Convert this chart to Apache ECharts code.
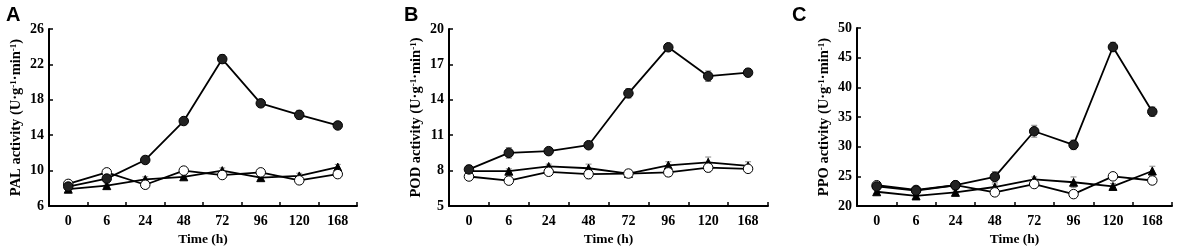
<!DOCTYPE html>
<html>
<head>
<meta charset="utf-8">
<script src="https://cdn.jsdelivr.net/npm/echarts@6/dist/echarts.min.js"></script>
<style>
html,body{margin:0;padding:0;background:#fff;}
#chart{width:1177px;height:252px;}
</style>
</head>
<body>
<div id="chart"></div>
<script>
// ---- Data ----
const categories = ['0', '6', '24', '48', '72', '96', '120', '168'];

// Panel A: PAL
const palFilled = [8.2, 9.1, 11.2, 15.6, 22.6, 17.6, 16.3, 15.1];
const palFilledErr = [0.2, 0.3, 0.3, 0.2, 0.5, 0.3, 0.5, 0.2];
const palOpen = [8.5, 9.8, 8.4, 10.0, 9.5, 9.8, 8.9, 9.6];
const palOpenErr = [0.2, 0.2, 0.4, 0.2, 0.3, 0.2, 0.2, 0.4];
const palTri = [7.9, 8.3, 9.0, 9.3, 10.0, 9.2, 9.4, 10.4];
const palTriErr = [0.2, 0.2, 0.3, 0.2, 0.3, 0.3, 0.3, 0.3];

// Panel B: POD
const podFilled = [8.1, 9.5, 9.65, 10.15, 14.55, 18.45, 16.0, 16.3];
const podFilledErr = [0.35, 0.45, 0.3, 0.2, 0.4, 0.25, 0.45, 0.35];
const podOpen = [7.5, 7.15, 7.9, 7.7, 7.75, 7.85, 8.25, 8.15];
const podOpenErr = [0.2, 0.1, 0.2, 0.4, 0.3, 0.35, 0.35, 0.2];
const podTri = [7.95, 7.95, 8.35, 8.2, 7.75, 8.45, 8.7, 8.4];
const podTriErr = [0.35, 0.2, 0.2, 0.35, 0.3, 0.3, 0.45, 0.35];

// Panel C: PPO
const ppoFilled = [23.3, 22.6, 23.5, 24.9, 32.6, 30.3, 46.8, 35.9];
const ppoFilledErr = [0.4, 0.4, 0.6, 0.9, 1.0, 0.8, 0.8, 0.8];
const ppoOpen = [23.5, 22.7, 23.5, 22.3, 23.7, 22.0, 25.0, 24.3];
const ppoOpenErr = [0.4, 0.4, 0.5, 0.5, 0.5, 0.6, 0.4, 0.6];
const ppoTri = [22.4, 21.7, 22.3, 23.2, 24.5, 24.0, 23.3, 25.9];
const ppoTriErr = [0.4, 0.4, 0.4, 0.5, 0.4, 0.9, 0.5, 0.8];

// Axis settings (tick labels)
const yAxesSpec = [
  {min: 6, max: 26, interval: 4, label: 'PAL'},
  {min: 5, max: 20, interval: 3, label: 'POD'},
  {min: 20, max: 50, interval: 5, label: 'PPO'}
];
const panelLetters = ['A', 'B', 'C'];
const xName = 'Time (h)';

// ---- Layout ----
const grids = [
  {left: 49, top: 29, width: 308, height: 183},
  {left: 449, top: 29, width: 319, height: 183},
  {left: 857, top: 28, width: 315, height: 183}
];
const letterPos = [[6, 5], [404, 5], [792, 5]];

const serif = 'Liberation Serif, Times New Roman, serif';

const panels = [
  {filled: palFilled, fErr: palFilledErr, open: palOpen, oErr: palOpenErr, tri: palTri, tErr: palTriErr},
  {filled: podFilled, fErr: podFilledErr, open: podOpen, oErr: podOpenErr, tri: podTri, tErr: podTriErr},
  {filled: ppoFilled, fErr: ppoFilledErr, open: ppoOpen, oErr: ppoOpenErr, tri: ppoTri, tErr: ppoTriErr}
];

function errData(vals, errs) {
  return vals.map((v, i) => [i, v - errs[i], v + errs[i]]);
}

function renderErr(params, api) {
  const x = api.value(0);
  const lo = api.coord([x, api.value(1)]);
  const hi = api.coord([x, api.value(2)]);
  const hw = 3;
  const st = {stroke: '#888', lineWidth: 1};
  return {
    type: 'group',
    children: [
      {type: 'line', shape: {x1: lo[0], y1: lo[1], x2: hi[0], y2: hi[1]}, style: st},
      {type: 'line', shape: {x1: lo[0] - hw, y1: lo[1], x2: lo[0] + hw, y2: lo[1]}, style: st},
      {type: 'line', shape: {x1: hi[0] - hw, y1: hi[1], x2: hi[0] + hw, y2: hi[1]}, style: st}
    ]
  };
}

const option = {
  backgroundColor: '#fff',
  animation: false,
  title: panelLetters.map((t, i) => ({
    text: t, left: letterPos[i][0], top: letterPos[i][1], padding: 0,
    textStyle: {fontFamily: 'Liberation Sans, Arial, sans-serif', fontWeight: 'bold', fontSize: 20, color: '#000'}
  })),
  grid: grids.map(g => Object.assign({containLabel: false}, g)),
  xAxis: grids.map((g, i) => ({
    type: 'category', gridIndex: i, data: categories, boundaryGap: true,
    name: xName, nameLocation: 'middle', nameGap: 27,
    nameTextStyle: {fontFamily: serif, fontWeight: 'bold', fontSize: 13.5, color: '#000'},
    axisLine: {lineStyle: {color: '#000', width: 2}},
    axisTick: {show: true, inside: true, length: 4, interval: 0, lineStyle: {color: '#000', width: 1.5}},
    axisLabel: {fontFamily: serif, fontWeight: 'bold', fontSize: 14, color: '#000', margin: 8, interval: 0},
    splitLine: {show: false}
  })),
  yAxis: yAxesSpec.map((s, i) => ({
    type: 'value', gridIndex: i, min: s.min, max: s.max, interval: s.interval,
    name: '{n|' + s.label + ' activity (U·g}{s|-1}{n|·min}{s|-1}{n|)}',
    nameLocation: 'middle', nameGap: 25, nameRotate: 90,
    nameTextStyle: {
      rich: {
        n: {fontFamily: serif, fontWeight: 'bold', fontSize: 14.5, color: '#000', lineHeight: 15},
        s: {fontFamily: serif, fontWeight: 'bold', fontSize: 9, color: '#000', verticalAlign: 'top', lineHeight: 15, padding: [0, 0, 6, 0]}
      }
    },
    axisLine: {show: true, lineStyle: {color: '#000', width: 2}},
    axisTick: {show: true, inside: true, length: 4, lineStyle: {color: '#000', width: 1.5}},
    axisLabel: {fontFamily: serif, fontWeight: 'bold', fontSize: 14, color: '#000', margin: 5},
    splitLine: {show: false}
  })),
  series: []
};

panels.forEach((p, i) => {
  [[p.filled, p.fErr], [p.open, p.oErr], [p.tri, p.tErr]].forEach(([v, e]) => {
    option.series.push({
      type: 'custom', xAxisIndex: i, yAxisIndex: i, renderItem: renderErr,
      data: errData(v, e), z: 1, silent: true,
      encode: {x: 0, y: [1, 2]}
    });
  });
  option.series.push({
    type: 'line', xAxisIndex: i, yAxisIndex: i, data: p.tri, z: 3,
    symbol: 'triangle', symbolSize: 8,
    lineStyle: {color: '#000', width: 1.8},
    itemStyle: {color: '#000', borderColor: '#000', borderWidth: 1}
  });
  option.series.push({
    type: 'line', xAxisIndex: i, yAxisIndex: i, data: p.open, z: 4,
    symbol: 'circle', symbolSize: 9.5,
    lineStyle: {color: '#000', width: 1.8},
    itemStyle: {color: '#fff', borderColor: '#000', borderWidth: 1}
  });
  option.series.push({
    type: 'line', xAxisIndex: i, yAxisIndex: i, data: p.filled, z: 5,
    symbol: 'circle', symbolSize: 9.5,
    lineStyle: {color: '#000', width: 1.8},
    itemStyle: {color: '#222', borderColor: '#000', borderWidth: 1}
  });
});

const chart = echarts.init(document.getElementById('chart'), null, {renderer: 'canvas'});
chart.setOption(option);
</script>
</body>
</html>
